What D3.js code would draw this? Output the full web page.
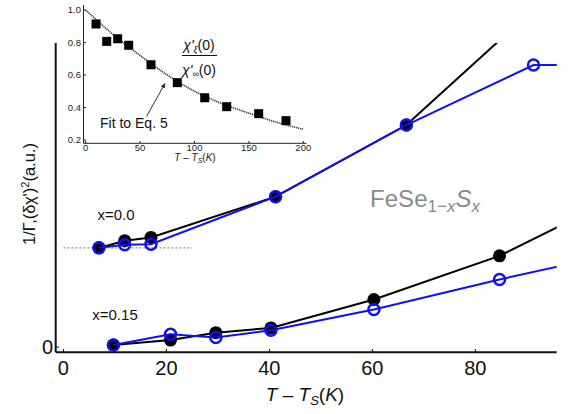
<!DOCTYPE html>
<html lang="en">
<head>
    <meta charset="UTF-8">
    <script src="https://d3js.org/d3.v7.min.js"></script>
    <title>FeSe1-xSx relaxation</title>
    <style>
        body {
            margin: 0;
            padding: 0;
            background-color: white;
            font-family: Arial, "Liberation Sans", sans-serif;
        }
        svg text {
            font-family: Arial, "Liberation Sans", sans-serif;
        }
    </style>
</head>
<body>
    <svg id="chart" width="570" height="414"></svg>
    <script>
        // main panel data, T - Ts (K) vs 1/Gamma and (dchi')^2 (a.u.)
        const tX00 = [6.9, 11.9, 17.0, 41.2, 66.6, 91.3];
        const gammaX00 = [2.48, 2.66, 2.74, 3.76, 5.55, 8.44];
        const tX00b = [6.9, 11.9, 17.0, 41.2, 66.6, 91.3, 105];
        const chiX00 = [2.48, 2.56, 2.57, 3.76, 5.55, 7.05, 7.05];

        const tX15 = [9.7, 20.8, 29.6, 40.3, 60.3, 84.7, 105];
        const gammaX15 = [0.05, 0.175, 0.36, 0.48, 1.19, 2.28, 3.58];
        const chiX15 = [0.05, 0.32, 0.24, 0.42, 0.94, 1.69, 2.27];

        const baseLevel = 2.48;
        const baseRange = [0, 25];
        const xTicks = [0, 20, 40, 60, 80];

        // inset data, chi'_xi(0) / chi'_inf(0)
        const insetT = [9.5, 19.3, 29.4, 39.5, 60, 84.2, 109.4, 129.6, 159, 184.1];
        const insetRatio = [0.914, 0.807, 0.823, 0.783, 0.663, 0.553, 0.46, 0.405, 0.362, 0.319];
        const fitT = [0, 25, 50, 75, 100, 125, 150, 175, 200];
        const fitRatio = [1.0, 0.85, 0.72, 0.6, 0.5, 0.425, 0.365, 0.31, 0.266];
        const insetXTicks = [0, 50, 100, 150, 200];
        const insetYTicks = [0.2, 0.4, 0.6, 0.8, 1.0];

        const svg = d3.select("#chart");
        const blue = "#1010f5";

        const x = d3.scaleLinear().domain([-1.5, 95.8]).range([55.7, 556.7]);
        const y = d3.scaleLinear().domain([-0.13, 7.6]).range([352.3, 43]);

        svg.append("clipPath").attr("id", "plotclip")
            .append("rect")
            .attr("x", 55.7).attr("y", 43)
            .attr("width", 501).attr("height", 309.3);

        // axes
        svg.append("line")
            .attr("x1", 55.7).attr("x2", 556.7)
            .attr("y1", 352.3).attr("y2", 352.3)
            .attr("stroke", "#111").attr("stroke-width", 2);
        svg.append("line")
            .attr("x1", 55.7).attr("x2", 55.7)
            .attr("y1", 43).attr("y2", 352.3)
            .attr("stroke", "#111").attr("stroke-width", 2);

        svg.selectAll(".xtick")
            .data(xTicks)
            .enter()
            .append("line")
            .attr("x1", d => x(d)).attr("x2", d => x(d))
            .attr("y1", 352.3).attr("y2", 349)
            .attr("stroke", "#111").attr("stroke-width", 1);

        svg.selectAll(".xlabel")
            .data(xTicks)
            .enter()
            .append("text")
            .attr("x", d => x(d))
            .attr("y", 375)
            .attr("text-anchor", "middle")
            .attr("font-size", 20)
            .attr("fill", "#111")
            .text(d => d);

        svg.append("line")
            .attr("x1", 55.7).attr("x2", 59)
            .attr("y1", y(0)).attr("y2", y(0))
            .attr("stroke", "#111").attr("stroke-width", 1);
        svg.append("text")
            .attr("x", 53).attr("y", y(0) + 7)
            .attr("text-anchor", "end")
            .attr("font-size", 20)
            .attr("fill", "#111")
            .text("0");

        // axis titles
        const xTitle = svg.append("text")
            .attr("x", 305).attr("y", 401)
            .attr("text-anchor", "middle")
            .attr("font-size", 19)
            .attr("fill", "#111");
        xTitle.append("tspan").attr("font-style", "italic").text("T");
        xTitle.append("tspan").text(" \u2013 ");
        xTitle.append("tspan").attr("font-style", "italic").text("T");
        xTitle.append("tspan").attr("font-style", "italic").attr("font-size", 13).attr("dy", 4).text("S");
        xTitle.append("tspan").attr("dy", -4).text("(");
        xTitle.append("tspan").attr("font-style", "italic").text("K");
        xTitle.append("tspan").text(")");

        const yTitle = svg.append("text")
            .attr("transform", "translate(35,194) rotate(-90)")
            .attr("text-anchor", "middle")
            .attr("font-size", 16.5)
            .attr("fill", "#111");
        yTitle.append("tspan").text("1/\u0393,(\u03b4\u03c7')");
        yTitle.append("tspan").attr("font-size", 11).attr("dy", -6).text("2");
        yTitle.append("tspan").attr("dy", 6).text("(a.u.)");

        // series
        const plot = svg.append("g").attr("clip-path", "url(#plotclip)");

        plot.append("line")
            .attr("x1", x(baseRange[0])).attr("x2", x(baseRange[1]))
            .attr("y1", y(baseLevel)).attr("y2", y(baseLevel))
            .attr("stroke", "#777").attr("stroke-width", 1)
            .attr("stroke-dasharray", "2,2");

        const line = d3.line().x(d => x(d[0])).y(d => y(d[1]));

        const drawBlack = (ts, vs) => {
            const pts = ts.map((t, i) => [t, vs[i]]);
            plot.append("path")
                .attr("d", line(pts))
                .attr("fill", "none")
                .attr("stroke", "#000")
                .attr("stroke-width", 2);
            plot.append("g").selectAll("circle")
                .data(pts)
                .enter()
                .append("circle")
                .attr("cx", d => x(d[0]))
                .attr("cy", d => y(d[1]))
                .attr("r", 6.5)
                .attr("fill", "#000");
        };

        const drawBlue = (ts, vs) => {
            const pts = ts.map((t, i) => [t, vs[i]]);
            plot.append("path")
                .attr("d", line(pts))
                .attr("fill", "none")
                .attr("stroke", blue)
                .attr("stroke-width", 2);
            plot.append("g").selectAll("circle")
                .data(pts)
                .enter()
                .append("circle")
                .attr("cx", d => x(d[0]))
                .attr("cy", d => y(d[1]))
                .attr("r", 5.5)
                .attr("fill", "none")
                .attr("stroke", blue)
                .attr("stroke-width", 2.5);
        };

        drawBlack(tX00, gammaX00);
        drawBlue(tX00b, chiX00);
        drawBlack(tX15, gammaX15);
        drawBlue(tX15, chiX15);

        svg.append("text")
            .attr("x", 116).attr("y", 220)
            .attr("text-anchor", "middle")
            .attr("font-size", 15)
            .attr("fill", "#111")
            .text("x=0.0");
        svg.append("text")
            .attr("x", 115).attr("y", 320)
            .attr("text-anchor", "middle")
            .attr("font-size", 15)
            .attr("fill", "#111")
            .text("x=0.15");

        const formula = svg.append("text")
            .attr("x", 425).attr("y", 207)
            .attr("text-anchor", "middle")
            .attr("font-size", 24)
            .attr("fill", "#8a8a8a");
        formula.append("tspan").text("FeSe");
        formula.append("tspan").attr("font-size", 17).attr("dy", 5).text("1\u2212");
        formula.append("tspan").attr("font-size", 17).attr("font-style", "italic").text("x");
        formula.append("tspan").attr("font-style", "italic").attr("dy", -5).text("S");
        formula.append("tspan").attr("font-size", 17).attr("font-style", "italic").attr("dy", 5).text("x");

        // inset
        const ix = d3.scaleLinear().domain([0, 200]).range([85.7, 303.3]);
        const iy = d3.scaleLinear().domain([0.2, 1.0]).range([140, 10]);
        const inset = svg.append("g");

        inset.append("line")
            .attr("x1", 83.5).attr("x2", 306.5)
            .attr("y1", 143.3).attr("y2", 143.3)
            .attr("stroke", "#222").attr("stroke-width", 1);
        inset.append("line")
            .attr("x1", 83.5).attr("x2", 83.5)
            .attr("y1", 5).attr("y2", 143.3)
            .attr("stroke", "#222").attr("stroke-width", 1);

        inset.selectAll(".ixt")
            .data(insetXTicks)
            .enter()
            .append("line")
            .attr("x1", d => ix(d)).attr("x2", d => ix(d))
            .attr("y1", 143.3).attr("y2", 141)
            .attr("stroke", "#222");
        inset.selectAll(".ixl")
            .data(insetXTicks)
            .enter()
            .append("text")
            .attr("x", d => ix(d)).attr("y", 151)
            .attr("text-anchor", "middle")
            .attr("font-size", 9.5)
            .attr("fill", "#222")
            .text(d => d);
        inset.selectAll(".iyt")
            .data(insetYTicks)
            .enter()
            .append("line")
            .attr("x1", 83.5).attr("x2", 86)
            .attr("y1", d => iy(d)).attr("y2", d => iy(d))
            .attr("stroke", "#222");
        inset.selectAll(".iyl")
            .data(insetYTicks)
            .enter()
            .append("text")
            .attr("x", 81).attr("y", d => iy(d) + 3.3)
            .attr("text-anchor", "end")
            .attr("font-size", 9.5)
            .attr("fill", "#222")
            .text(d => d.toFixed(1));

        const iTitle = inset.append("text")
            .attr("x", 195).attr("y", 161)
            .attr("text-anchor", "middle")
            .attr("font-size", 10)
            .attr("fill", "#222");
        iTitle.append("tspan").attr("font-style", "italic").text("T");
        iTitle.append("tspan").text(" \u2013 ");
        iTitle.append("tspan").attr("font-style", "italic").text("T");
        iTitle.append("tspan").attr("font-style", "italic").attr("font-size", 7).attr("dy", 2).text("S");
        iTitle.append("tspan").attr("dy", -2).text("(");
        iTitle.append("tspan").attr("font-style", "italic").text("K");
        iTitle.append("tspan").text(")");

        const fitLine = d3.line().curve(d3.curveMonotoneX)
            .x(d => ix(d[0])).y(d => iy(d[1]));
        inset.append("path")
            .attr("d", fitLine(fitT.map((t, i) => [t, fitRatio[i]])))
            .attr("fill", "none")
            .attr("stroke", "#333")
            .attr("stroke-width", 1.6)
            .attr("stroke-dasharray", "1.2,0.8");

        inset.selectAll("rect.sq")
            .data(insetT.map((t, i) => [t, insetRatio[i]]))
            .enter()
            .append("rect")
            .attr("x", d => ix(d[0]) - 4.5)
            .attr("y", d => iy(d[1]) - 4.5)
            .attr("width", 9).attr("height", 9)
            .attr("fill", "#000");

        // fraction label
        const num = inset.append("text")
            .attr("x", 199).attr("y", 50)
            .attr("text-anchor", "middle")
            .attr("font-size", 14)
            .attr("fill", "#111");
        num.append("tspan").attr("font-style", "italic").text("\u03c7'");
        num.append("tspan").attr("font-style", "italic").attr("font-size", 9).attr("dy", 3).text("\u03be");
        num.append("tspan").attr("dy", -3).text("(0)");
        inset.append("line")
            .attr("x1", 182).attr("x2", 217)
            .attr("y1", 55.5).attr("y2", 55.5)
            .attr("stroke", "#111").attr("stroke-width", 1);
        const den = inset.append("text")
            .attr("x", 199).attr("y", 75)
            .attr("text-anchor", "middle")
            .attr("font-size", 14)
            .attr("fill", "#111");
        den.append("tspan").attr("font-style", "italic").text("\u03c7'");
        den.append("tspan").attr("font-size", 9).attr("dy", 2).text("\u221e");
        den.append("tspan").attr("dy", -2).text("(0)");

        inset.append("text")
            .attr("x", 100).attr("y", 128)
            .attr("font-size", 14)
            .attr("fill", "#111")
            .text("Fit to Eq. 5");

        svg.append("defs").append("marker")
            .attr("id", "arrow")
            .attr("viewBox", "0 0 10 10")
            .attr("refX", 9).attr("refY", 5)
            .attr("markerWidth", 5).attr("markerHeight", 5)
            .attr("orient", "auto")
            .append("path")
            .attr("d", "M0,0 L10,5 L0,10 z")
            .attr("fill", "#333");
        inset.append("line")
            .attr("x1", 146.5).attr("y1", 116.5)
            .attr("x2", 165).attr("y2", 83.5)
            .attr("stroke", "#333").attr("stroke-width", 1)
            .attr("marker-end", "url(#arrow)");
    </script>
</body>
</html>
